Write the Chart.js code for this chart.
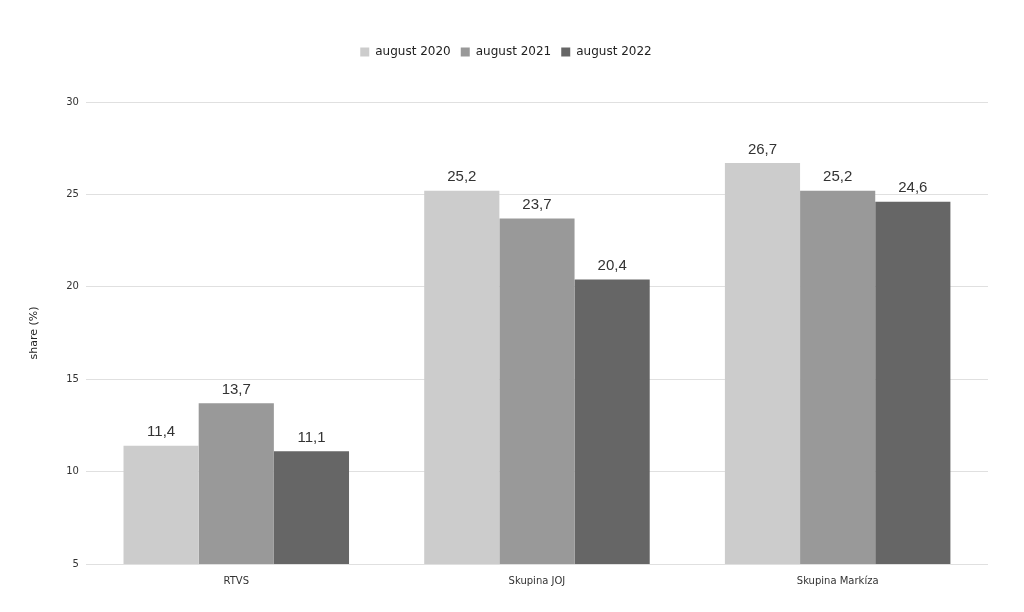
<!DOCTYPE html>
<html>
<head>
<meta charset="utf-8">
<script src="https://cdn.jsdelivr.net/npm/chart.js@4/dist/chart.umd.min.js"></script>
<style>
  html, body { margin: 0; padding: 0; background: #fff; }
  #wrap { width: 1024px; height: 612px; }
</style>
</head>
<body>
<div id="wrap"><canvas id="c" width="1024" height="612"></canvas></div>
<script>
const categories = ['RTVS', 'Skupina JOJ', 'Skupina Markíza'];
const seriesNames = ['august 2020', 'august 2021', 'august 2022'];
const aug2020 = [11.4, 25.2, 26.7];
const aug2021 = [13.7, 23.7, 25.2];
const aug2022 = [11.1, 20.4, 24.6];
const barColors = ['#cccccc', '#999999', '#666666'];

// value labels above bars, comma decimals
const valueLabels = {
  id: 'valueLabels',
  afterDatasetsDraw(chart) {
    const ctx = chart.ctx;
    ctx.save();
    ctx.font = '15px "Liberation Sans", Arial, sans-serif';
    ctx.fillStyle = '#333';
    ctx.textAlign = 'center';
    ctx.textBaseline = 'bottom';
    chart.data.datasets.forEach((ds, i) => {
      chart.getDatasetMeta(i).data.forEach((bar, j) => {
        ctx.fillText(ds.data[j].toFixed(1).replace('.', ','), bar.x, bar.y - 6);
      });
    });
    ctx.restore();
  }
};

// extra room under the legend
const legendGap = {
  id: 'legendGap',
  beforeInit(chart) {
    const fit = chart.legend.fit;
    chart.legend.fit = function () {
      fit.bind(chart.legend)();
      this.height += 34;
    };
  }
};

const allSeries = [aug2020, aug2021, aug2022];

new Chart(document.getElementById('c'), {
  type: 'bar',
  data: {
    labels: categories,
    datasets: allSeries.map((d, i) => ({
      label: seriesNames[i],
      data: d,
      backgroundColor: barColors[i],
      borderWidth: 0,
      categoryPercentage: 0.75,
      barPercentage: 1.0
    }))
  },
  options: {
    responsive: false,
    animation: false,
    layout: { padding: { left: 24, right: 36, top: 36, bottom: 22 } },
    plugins: {
      legend: {
        position: 'top',
        labels: {
          boxWidth: 9,
          boxHeight: 9,
          padding: 10,
          color: '#222',
          font: { family: '"DejaVu Sans", Tahoma, sans-serif', size: 12 }
        }
      },
      tooltip: { enabled: false }
    },
    scales: {
      x: {
        grid: { display: false },
        border: { display: false },
        ticks: {
          color: '#333',
          font: { family: '"DejaVu Sans", Tahoma, sans-serif', size: 10 }
        }
      },
      y: {
        min: 5,
        max: 30,
        ticks: {
          stepSize: 5,
          padding: 7,
          color: '#333',
          font: { family: '"DejaVu Sans", Tahoma, sans-serif', size: 10 }
        },
        grid: { color: '#e0e0e0', drawTicks: false },
        border: { display: false },
        title: {
          display: true,
          text: 'share (%)',
          color: '#222',
          font: { family: '"DejaVu Sans", Tahoma, sans-serif', size: 11 },
          padding: { bottom: 18 }
        }
      }
    }
  },
  plugins: [valueLabels, legendGap]
});
</script>
</body>
</html>
